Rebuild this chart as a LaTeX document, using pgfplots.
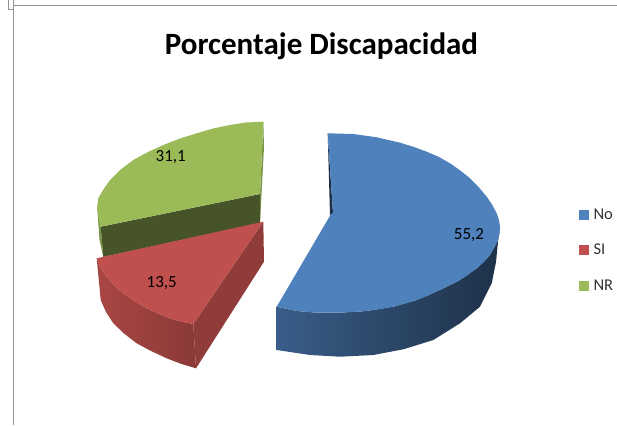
\documentclass[border=0pt]{standalone}
\usepackage{fontspec}
\setmainfont{Carlito}
\usepackage{pgfplots}
\pgfplotsset{compat=1.18}
\definecolor{azul}{HTML}{4F81BD}
\definecolor{rojo}{HTML}{C0504D}
\definecolor{verde}{HTML}{9BBB59}
\begin{document}
\begin{tikzpicture}
\begin{axis}[
  scale only axis, width=617pt, height=425pt,
  xmin=0, xmax=617, ymin=0, ymax=425, y dir=reverse,
  hide axis, clip=true,
  legend cell align=left,
  legend style={at={(axis cs:579,206.5)},anchor=north west,draw=none,fill=none,
    font=\fontsize{16.5}{19}\selectfont\color{black!80},row sep=19.5pt,inner sep=0pt,outer sep=0pt},
  legend image code/.code={\fill[#1,draw=none] (0pt,-5pt) rectangle (9.5pt,5pt);\path[draw=none] (0pt,0pt) -- (12.5pt,0pt);},
]
\addlegendimage{fill=azul}\addlegendentry{No}
\addlegendimage{fill=rojo}\addlegendentry{SI}
\addlegendimage{fill=verde}\addlegendentry{NR}
% page
\addplot[draw=none,fill=white] coordinates {(0,0) (617,0) (617,425) (0,425)} -- cycle;
% frame
\addplot[color=black!42,line width=1.2pt] coordinates {(13.5,425) (13.5,5.5) (617,5.5)};
\addplot[color=black!42,line width=1pt] coordinates {(8.5,0) (8.5,9.5) (13.5,9.5)};
\addplot[color=black!42,line width=1pt] coordinates {(13,0) (13,5.5)};
% green
\addplot[draw=none,fill=verde!80!black] coordinates {(263.3,121.7) (264,147) (260,223) (260,194)} -- cycle;
\addplot[draw=none,fill=verde!80!black] coordinates {(97.3,208.3) (100.7,226.7) (103.3,256.7) (99.5,240)} -- cycle;
\addplot[draw=none,fill=verde!45!black] coordinates {(100.7,226.7) (260,194) (260,223) (103.3,257)} -- cycle;
\addplot[draw=none,fill=verde] coordinates {(263.3,121.7) (246,122.5) (230,125) (213,128.5) (196.7,133.3) (180,138.5) (163.3,145) (148,152) (133.3,160) (120,170) (110,180) (103,190) (98.3,198.3) (97,208.3) (98.3,217) (100.7,226.7) (260,194)} -- cycle;
% red
\addplot[draw=none,fill=rojo!75!black] coordinates {(193.3,324) (263.3,221.7) (264,261.7) (196,368.3)} -- cycle;
\addplot[draw=none,left color=rojo!88!black,right color=rojo!72!black] coordinates {(96.7,258.3) (101,268) (106.7,276.7) (114,285.5) (123.3,293.3) (134.5,301) (146.7,308.3) (158,313.5) (170,318.3) (181,321.5) (193.3,324) (196,368.3) (181,363.8) (166.7,358.3) (151,351) (136.7,343.3) (124,333.5) (113.3,323.3) (106,312) (100.7,300)} -- cycle;
\addplot[draw=none,fill=rojo] coordinates {(96.7,258.3) (263.3,221.7) (193.3,324) (181,321.5) (170,318.3) (158,313.5) (146.7,308.3) (134.5,301) (123.3,293.3) (114,285.5) (106.7,276.7) (101,268)} -- cycle;
% blue
\addplot[draw=none,left color=azul!72!black,middle color=azul!38!black,right color=azul!38!black] coordinates {(276.7,306.7) (296.7,311) (316.7,312.7) (340,312.7) (366.7,311) (393.3,306.7) (416.7,300) (440,290) (460,280) (476.7,268.3) (490,255) (497.3,241.7) (500,226.7) (498,241.7) (496,262) (491.7,283.3) (480,306.7) (460,323.3) (433.3,340) (403.3,349.3) (373.3,355) (340,356.7) (310,355) (276.7,350)} -- cycle;
\addplot[draw=none,fill=azul!38!black] coordinates {(327.7,133.3) (333,213) (330,215.5)} -- cycle;
\addplot[draw=none,fill=azul] coordinates {(327.7,133.3) (353.3,134) (376.7,137.3) (400,142.7) (414,147) (426.7,151.7) (439,157) (450,163.3) (461,171) (470,178.3) (479,187.5) (486.7,196.7) (492,204.5) (496.7,213.3) (499,220) (500,226.7) (499.5,234) (497.3,241.7) (494,248.5) (490,255) (484,262) (476.7,268.3) (468.5,274.5) (460,280) (450,285) (440,290) (428.5,295.5) (416.7,300) (405,303.5) (393.3,306.7) (380,309) (366.7,311) (353,312) (340,312.7) (316.7,312.7) (296.7,311) (276.7,306.7) (331,214) (333,213)} -- cycle;
% labels
\node[font=\fontsize{17}{19}\selectfont] at (axis cs:469,235) {55,2};
\node[font=\fontsize{17}{19}\selectfont] at (axis cs:170.7,157) {31,1};
\node[font=\fontsize{17}{19}\selectfont] at (axis cs:161.7,283) {13,5};
\node[font=\fontsize{31}{36}\selectfont\bfseries] at (axis cs:321.5,46) {Porcentaje Discapacidad};
\end{axis}
\end{tikzpicture}
\end{document}
